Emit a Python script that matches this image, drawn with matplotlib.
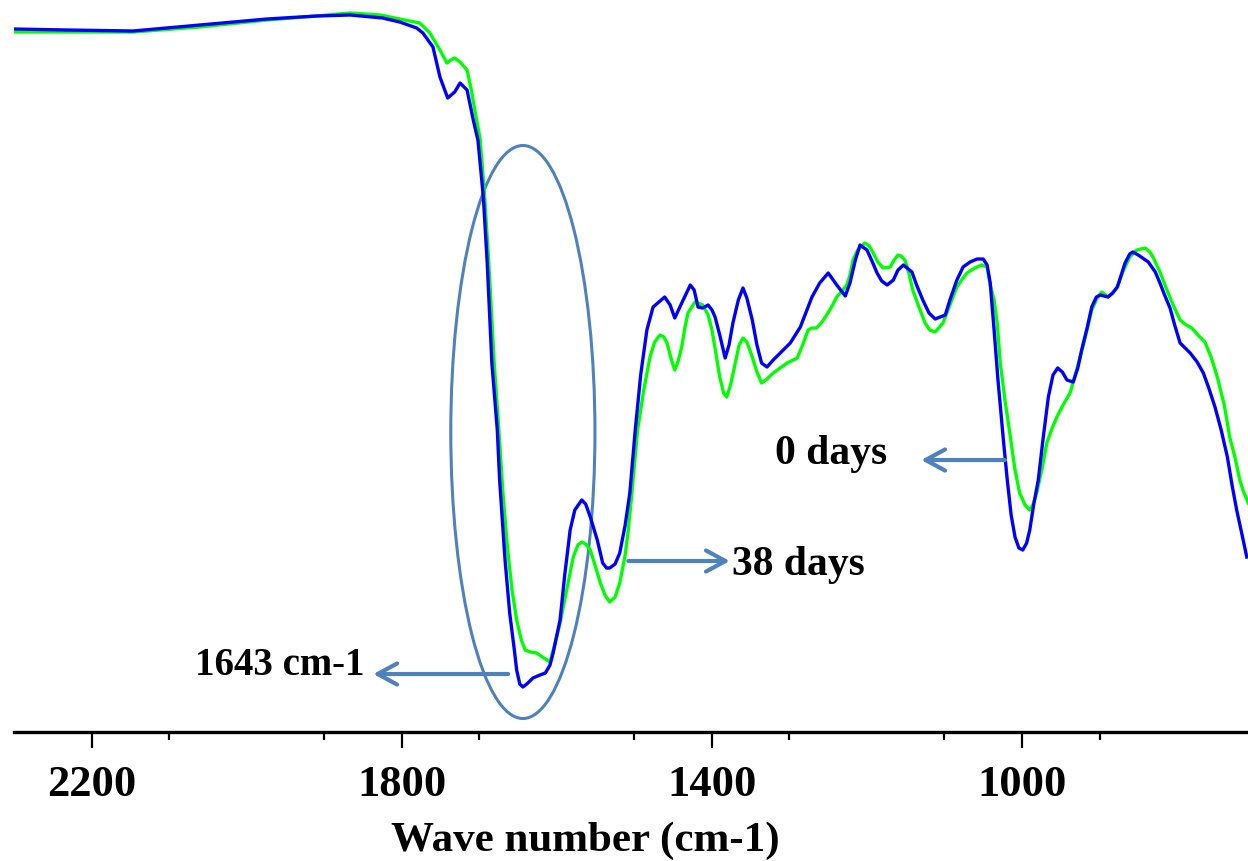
import numpy as np
import matplotlib
matplotlib.use("Agg")
import matplotlib.pyplot as plt
from matplotlib.patches import Ellipse

# FTIR spectra, (wave number cm-1, transmittance a.u.)
day0_pts = [
    (2301, 70.3), (2232, 70.2), (2147, 70.1), (2061, 70.7), (1974, 71.3), (1910, 71.6),
    (1867, 71.7), (1825, 71.4), (1803, 71.0), (1781, 70.4), (1773, 69.9), (1760, 68.5),
    (1751, 65.5), (1741, 63.4), (1732, 64.0), (1725, 64.9), (1716, 64.2), (1708, 61.2),
    (1702, 59.2), (1695, 53.5), (1690, 46.9), (1684, 36.9), (1677, 30.2), (1674, 25.2),
    (1667, 17.2), (1661, 11.9), (1655, 8.2), (1652, 6.2), (1648, 4.8), (1644, 4.5),
    (1639, 4.8), (1631, 5.4), (1622, 5.7), (1615, 5.9), (1609, 6.7), (1605, 7.9),
    (1596, 11.2), (1590, 15.7), (1583, 20.2), (1577, 22.2), (1568, 23.2), (1563, 22.8),
    (1557, 21.5), (1548, 19.2), (1541, 16.9), (1536, 16.4), (1532, 16.4), (1525, 16.8),
    (1519, 17.9), (1512, 20.7), (1506, 23.9), (1499, 30.2), (1492, 35.7), (1484, 40.2),
    (1476, 42.5), (1467, 43.1), (1461, 43.5), (1454, 42.7), (1448, 41.4), (1439, 42.9),
    (1428, 44.7), (1423, 44.2), (1418, 42.5), (1412, 42.4), (1405, 42.7), (1400, 42.2),
    (1396, 41.5), (1390, 39.7), (1383, 37.4), (1378, 38.7), (1373, 40.9), (1366, 43.2),
    (1360, 44.4), (1355, 43.4), (1348, 41.2), (1342, 38.7), (1336, 36.9), (1329, 36.5),
    (1321, 37.2), (1312, 37.9), (1299, 38.9), (1286, 40.5), (1271, 43.5), (1261, 44.9),
    (1250, 45.9), (1239, 44.7), (1228, 43.6), (1222, 44.9), (1215, 47.2), (1209, 48.7),
    (1200, 48.2), (1193, 47.0), (1187, 45.9), (1181, 45.1), (1174, 44.7), (1166, 45.2),
    (1160, 46.2), (1153, 46.7), (1142, 46.0), (1136, 44.7), (1128, 43.2), (1120, 41.9),
    (1112, 41.3), (1099, 41.7), (1093, 43.2), (1084, 45.2), (1076, 46.5), (1067, 47.0),
    (1058, 47.3), (1050, 47.3), (1045, 46.7), (1041, 44.9), (1036, 40.2), (1031, 35.2),
    (1024, 29.2), (1019, 25.2), (1014, 21.7), (1009, 19.5), (1004, 18.4), (999, 18.2),
    (994, 18.9), (990, 20.2), (985, 22.7), (979, 25.2), (973, 29.2), (966, 33.5),
    (960, 35.7), (954, 36.4), (948, 36.0), (942, 35.2), (934, 35.0), (928, 36.4),
    (923, 38.2), (916, 40.4), (910, 42.5), (904, 43.5), (899, 43.7), (889, 43.5),
    (883, 43.9), (877, 44.5), (872, 45.7), (867, 46.9), (861, 47.8), (857, 48.0),
    (850, 47.7), (837, 47.0), (828, 46.0), (822, 44.9), (816, 43.7), (809, 42.4),
    (803, 40.7), (796, 38.9), (783, 37.9), (774, 37.0), (766, 35.9), (759, 34.4),
    (751, 32.5), (743, 30.2), (735, 27.5), (729, 24.7), (723, 22.2), (716, 19.7),
    (710, 17.5),
]

day38_pts = [
    (2301, 70.0), (2147, 70.0), (2061, 70.5), (1974, 71.2), (1910, 71.6), (1867, 71.9),
    (1828, 71.7), (1803, 71.3), (1777, 70.9), (1764, 69.9), (1751, 68.2), (1742, 66.9),
    (1737, 67.2), (1732, 67.4), (1725, 67.0), (1716, 66.2), (1711, 64.4), (1706, 62.2),
    (1699, 59.2), (1693, 53.2), (1688, 46.9), (1681, 36.9), (1675, 30.2), (1670, 24.2),
    (1664, 18.5), (1658, 14.2), (1652, 11.2), (1646, 9.2), (1641, 8.2), (1634, 8.0),
    (1626, 7.9), (1617, 7.4), (1609, 7.0), (1603, 8.7), (1596, 10.9), (1587, 14.4),
    (1579, 17.5), (1573, 18.7), (1568, 19.0), (1563, 18.8), (1557, 18.2), (1551, 16.7),
    (1544, 14.9), (1538, 13.7), (1532, 13.0), (1525, 13.5), (1519, 14.9), (1512, 17.7),
    (1508, 20.2), (1503, 24.2), (1496, 30.2), (1488, 34.2), (1480, 37.5), (1474, 39.0),
    (1467, 39.7), (1462, 39.5), (1458, 38.9), (1453, 37.4), (1448, 36.2), (1444, 37.0),
    (1439, 38.5), (1435, 40.4), (1431, 41.9), (1422, 43.0), (1412, 42.7), (1405, 41.7),
    (1400, 40.2), (1395, 37.9), (1390, 35.5), (1385, 33.9), (1381, 33.5), (1376, 34.7),
    (1370, 36.9), (1365, 38.7), (1360, 39.4), (1355, 39.0), (1348, 37.5), (1342, 36.0),
    (1336, 34.9), (1329, 35.3), (1321, 35.9), (1312, 36.4), (1303, 36.9), (1290, 37.4),
    (1283, 38.7), (1276, 40.2), (1271, 40.4), (1265, 40.4), (1258, 41.0), (1252, 41.7),
    (1245, 42.6), (1239, 43.5), (1231, 44.2), (1226, 44.7), (1222, 45.7), (1218, 47.2),
    (1212, 48.2), (1203, 48.9), (1197, 48.6), (1192, 47.9), (1186, 47.0), (1179, 46.4),
    (1170, 46.5), (1165, 47.2), (1160, 47.7), (1156, 47.6), (1151, 47.2), (1146, 45.9),
    (1141, 44.2), (1133, 42.5), (1125, 40.9), (1119, 40.2), (1112, 40.0), (1102, 40.9),
    (1093, 42.7), (1084, 44.5), (1077, 45.3), (1071, 45.9), (1061, 46.4), (1052, 46.7),
    (1045, 46.5), (1041, 44.7), (1036, 43.2), (1032, 40.9), (1028, 36.9), (1022, 33.2),
    (1015, 29.5), (1009, 26.2), (1003, 23.9), (996, 22.7), (990, 22.2), (986, 22.7),
    (981, 23.9), (974, 26.4), (968, 28.9), (961, 30.4), (955, 31.5), (947, 32.7),
    (938, 33.9), (932, 35.5), (925, 37.5), (917, 39.9), (910, 42.2), (903, 43.4),
    (897, 44.0), (889, 43.5), (883, 43.9), (877, 44.5), (870, 46.0), (861, 47.5),
    (852, 48.2), (841, 48.4), (835, 48.0), (831, 47.5), (822, 46.0), (813, 44.2),
    (805, 42.7), (796, 41.2), (788, 40.7), (781, 40.4), (773, 39.7), (764, 39.0),
    (756, 37.5), (748, 35.5), (739, 32.7), (732, 29.5), (725, 27.4), (719, 25.2),
    (714, 24.0), (708, 22.9),
]

major_ticks = [2200, 1800, 1400, 1000]
minor_ticks = [2100, 1900, 1700, 1500, 1300, 1100, 900]

wn_0, t_0 = np.array(day0_pts).T
wn_38, t_38 = np.array(day38_pts).T

note_color = "#4f81bd"
serif = ["Liberation Serif", "DejaVu Serif"]

fig = plt.figure(figsize=(12.48, 8.61), dpi=100)
ax = fig.add_axes([0.0112, 0.1498, 0.9888, 0.8502])

ax.plot(wn_38, t_38, color="#00ff00", lw=2.4, solid_joinstyle="round")
ax.plot(wn_0, t_0, color="#0000ff", lw=2.4, solid_joinstyle="round")

ax.set_xlim(2300.6, 708.4)
ax.set_ylim(0, 73.2)

# circle around the 1643 band
ax.add_patch(Ellipse((1644, 30.0), 186, 57.3, fill=False, ec=note_color, lw=2.2))

arrow = dict(arrowstyle="->,head_length=0.7,head_width=0.38", color=note_color,
             lw=3.0, mutation_scale=20, shrinkA=0, shrinkB=0)
ax.annotate("", xy=(1837, 5.8), xytext=(1663, 5.8), arrowprops=arrow)
ax.annotate("", xy=(1377, 17.1), xytext=(1508, 17.1), arrowprops=arrow)
ax.annotate("", xy=(1130, 27.2), xytext=(1022, 27.2), arrowprops=arrow)

ax.text(1848, 6.7, "1643 cm-1", ha="right", va="center", fontsize=28,
        fontweight="bold", family=serif)
ax.text(1374, 16.7, "38 days", ha="left", va="center", fontsize=30,
        fontweight="bold", family=serif)
ax.text(1174, 27.8, "0 days", ha="right", va="center", fontsize=30,
        fontweight="bold", family=serif)

for s in ["top", "left", "right"]:
    ax.spines[s].set_visible(False)
ax.spines["bottom"].set_linewidth(2.4)
ax.set_yticks([])

ax.set_xticks(major_ticks)
ax.set_xticks(minor_ticks, minor=True)
ax.tick_params(axis="x", which="major", direction="out", length=11.5, width=1.6, pad=12)
ax.tick_params(axis="x", which="minor", direction="out", length=6, width=1.6)
for lab in ax.get_xticklabels():
    lab.set_fontfamily(serif)
    lab.set_fontweight("bold")
    lab.set_fontsize(32)

ax.set_xlabel("Wave number (cm-1)", fontsize=31, fontweight="bold", family=serif)
ax.xaxis.set_label_coords(0.4627, -0.149)
ax.xaxis.label.set_va("center")

fig.savefig("out.png", dpi=100)
